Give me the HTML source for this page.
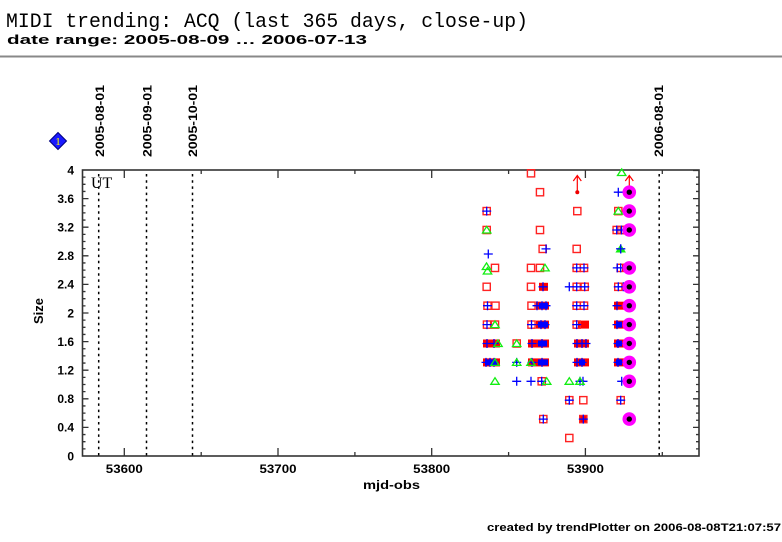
<!DOCTYPE html>
<html><head><meta charset="utf-8"><style>html,body{margin:0;padding:0;background:#fff;}svg{display:block;}</style></head>
<body>
<svg width="782" height="542" viewBox="0 0 782 542" xmlns="http://www.w3.org/2000/svg" xmlns:xlink="http://www.w3.org/1999/xlink" font-family="'Liberation Sans', sans-serif">
<defs>
<rect id="s" x="-3.6" y="-3.6" width="7.2" height="7.2" fill="none" stroke="#f22" stroke-width="1.4"/>
<path id="p" d="M-4.5 0H4.5M0 -4.5V4.5" stroke="#00f" stroke-width="1.3" fill="none"/>
<path id="t" d="M0 -3.6L4.2 3H-4.2Z" fill="none" stroke="#1e1" stroke-width="1.3"/>
<g id="m"><circle r="6.8" fill="#f0f"/><circle r="2.7" fill="#000"/></g>
</defs>
<rect width="782" height="542" fill="#fff"/>
<text x="6" y="27" font-family="'Liberation Mono', monospace" font-size="20" textLength="522" lengthAdjust="spacingAndGlyphs">MIDI trending: ACQ (last 365 days, close-up)</text>
<text x="7" y="44" font-size="13" font-weight="bold" textLength="360" lengthAdjust="spacingAndGlyphs">date range: 2005-08-09 … 2006-07-13</text>
<rect x="0" y="55.5" width="782" height="2" fill="#888"/>

<!-- diamond -->
<polygon points="58,132.5 66.5,141 58,149.5 49.5,141" fill="#1a1aff" stroke="#000080" stroke-width="1"/>
<text x="58" y="145" font-family="'Liberation Serif', serif" font-size="11" fill="#ff0" text-anchor="middle">1</text>

<!-- top rotated date labels -->
<g font-weight="bold" font-size="12">
<text transform="translate(104,157) rotate(-90)" textLength="72" lengthAdjust="spacingAndGlyphs">2005-08-01</text>
<text transform="translate(151.5,157) rotate(-90)" textLength="72" lengthAdjust="spacingAndGlyphs">2005-09-01</text>
<text transform="translate(197,157) rotate(-90)" textLength="72" lengthAdjust="spacingAndGlyphs">2005-10-01</text>
<text transform="translate(663,157) rotate(-90)" textLength="72" lengthAdjust="spacingAndGlyphs">2006-08-01</text>
</g>

<!-- dotted date lines -->
<g stroke="#000" stroke-width="1.5" stroke-dasharray="2.5 3.7">
<line x1="98.7" y1="174" x2="98.7" y2="456"/>
<line x1="146.5" y1="174" x2="146.5" y2="456"/>
<line x1="192.5" y1="174" x2="192.5" y2="456"/>
<line x1="659.2" y1="174" x2="659.2" y2="456"/>
</g>

<text x="91" y="188" font-family="'Liberation Serif', serif" font-size="16">UT</text>

<!-- frame -->
<rect x="82.5" y="170" width="616.5" height="286" fill="none" stroke="#333" stroke-width="1.6"/>
<g stroke="#333" stroke-width="1.3" fill="none">
<path d="M82.5 448.85h3M82.5 441.7h3M82.5 434.55h3M82.5 420.25h3M82.5 413.1h3M82.5 405.95h3M82.5 391.65h3M82.5 384.5h3M82.5 377.35h3M82.5 363.05h3M82.5 355.9h3M82.5 348.75h3M82.5 334.45h3M82.5 327.3h3M82.5 320.15h3M82.5 305.85h3M82.5 298.7h3M82.5 291.55h3M82.5 277.25h3M82.5 270.1h3M82.5 262.95h3M82.5 248.65h3M82.5 241.5h3M82.5 234.35h3M82.5 220.05h3M82.5 212.9h3M82.5 205.75h3M82.5 191.45h3M82.5 184.3h3M82.5 177.15h3"/>
<path d="M82.5 427.4h6M82.5 398.8h6M82.5 370.2h6M82.5 341.6h6M82.5 313h6M82.5 284.4h6M82.5 255.8h6M82.5 227.2h6M82.5 198.6h6"/>
<path d="M699 448.85h-3M699 441.7h-3M699 434.55h-3M699 420.25h-3M699 413.1h-3M699 405.95h-3M699 391.65h-3M699 384.5h-3M699 377.35h-3M699 363.05h-3M699 355.9h-3M699 348.75h-3M699 334.45h-3M699 327.3h-3M699 320.15h-3M699 305.85h-3M699 298.7h-3M699 291.55h-3M699 277.25h-3M699 270.1h-3M699 262.95h-3M699 248.65h-3M699 241.5h-3M699 234.35h-3M699 220.05h-3M699 212.9h-3M699 205.75h-3M699 191.45h-3M699 184.3h-3M699 177.15h-3"/>
<path d="M699 427.4h-6M699 398.8h-6M699 370.2h-6M699 341.6h-6M699 313h-6M699 284.4h-6M699 255.8h-6M699 227.2h-6M699 198.6h-6M699 170.5h-6"/>
<path d="M124.3 456v-8M278 456v-8M431.7 456v-8M585.4 456v-8M201.2 456v-4M354.9 456v-4M508.6 456v-4M662.3 456v-4"/>
<path d="M124.3 170v8M278 170v8M431.7 170v8M585.4 170v8M201.2 170v4M354.9 170v4M508.6 170v4M662.3 170v4"/>
</g>

<!-- y tick labels -->
<g font-weight="bold" font-size="12" text-anchor="end">
<text x="74" y="460.3">0</text>
<text x="74" y="431.7">0.4</text>
<text x="74" y="403.1">0.8</text>
<text x="74" y="374.5">1.2</text>
<text x="74" y="345.9">1.6</text>
<text x="74" y="317.3">2</text>
<text x="74" y="288.7">2.4</text>
<text x="74" y="260.1">2.8</text>
<text x="74" y="231.5">3.2</text>
<text x="74" y="202.9">3.6</text>
<text x="74" y="174.3">4</text>
</g>
<!-- x tick labels -->
<g font-weight="bold" font-size="12" text-anchor="middle">
<text x="124.3" y="473" textLength="37" lengthAdjust="spacingAndGlyphs">53600</text>
<text x="278" y="473" textLength="37" lengthAdjust="spacingAndGlyphs">53700</text>
<text x="431.7" y="473" textLength="37" lengthAdjust="spacingAndGlyphs">53800</text>
<text x="585.4" y="473" textLength="37" lengthAdjust="spacingAndGlyphs">53900</text>
</g>
<text x="391.5" y="489" font-weight="bold" font-size="12" text-anchor="middle" textLength="57" lengthAdjust="spacingAndGlyphs">mjd-obs</text>
<text transform="translate(43,311) rotate(-90)" font-weight="bold" font-size="13" text-anchor="middle">Size</text>

<!-- blocks -->
<g fill="#f00">
<rect x="622" y="263.9" width="7" height="8"/>
<rect x="539" y="282.8" width="9" height="8"/>
<rect x="536" y="301.7" width="13" height="8"/>
<rect x="614" y="301.7" width="10" height="8"/>
<rect x="536" y="320.6" width="13" height="8"/>
<rect x="578" y="320.6" width="11" height="8"/>
<rect x="614" y="320.6" width="10" height="8"/>
<rect x="483" y="339.5" width="17" height="8"/>
<rect x="528" y="339.5" width="21" height="8"/>
<rect x="574" y="339.5" width="15" height="8"/>
<rect x="614" y="339.5" width="10" height="8"/>
<rect x="483" y="358.4" width="17" height="8"/>
<rect x="528" y="358.4" width="21" height="8"/>
<rect x="574" y="358.4" width="15" height="8"/>
<rect x="614" y="358.4" width="10" height="8"/>
<rect x="580" y="415.1" width="7" height="8"/>
</g>
<g fill="#00f">
<rect x="539" y="302.7" width="9" height="6"/>
<rect x="538" y="321.6" width="10" height="6"/>
<rect x="616" y="321.6" width="6" height="6"/>
<rect x="538" y="340.5" width="9" height="6"/>
<rect x="538" y="359.4" width="10" height="6"/>
<rect x="485" y="359.4" width="12" height="6"/>
<rect x="579" y="359.4" width="6" height="6"/>
<rect x="616" y="340.5" width="6" height="6"/>
<rect x="616" y="359.4" width="6" height="6"/>
</g>

<!-- squares -->
<g>
<use xlink:href="#s" x="531" y="173.3"/>
<use xlink:href="#s" x="540" y="192.2"/>
<use xlink:href="#s" x="486.7" y="211.1"/><use xlink:href="#s" x="577.3" y="211.1"/><use xlink:href="#s" x="618.3" y="211.1"/>
<use xlink:href="#s" x="486.7" y="230"/><use xlink:href="#s" x="540" y="230"/><use xlink:href="#s" x="616.7" y="230"/><use xlink:href="#s" x="621.5" y="230"/><use xlink:href="#s" x="625" y="230"/>
<use xlink:href="#s" x="542.7" y="248.9"/><use xlink:href="#s" x="576.7" y="248.9"/>
<use xlink:href="#s" x="495" y="267.9"/><use xlink:href="#s" x="531" y="267.9"/><use xlink:href="#s" x="540" y="267.9"/><use xlink:href="#s" x="576.7" y="267.9"/><use xlink:href="#s" x="584" y="267.9"/><use xlink:href="#s" x="620.7" y="267.9"/>
<use xlink:href="#s" x="486.7" y="286.8"/><use xlink:href="#s" x="531" y="286.8"/><use xlink:href="#s" x="576.7" y="286.8"/><use xlink:href="#s" x="584.7" y="286.8"/><use xlink:href="#s" x="618.3" y="286.8"/>
<use xlink:href="#s" x="487.5" y="305.7"/><use xlink:href="#s" x="495.5" y="305.7"/><use xlink:href="#s" x="531.5" y="305.7"/><use xlink:href="#s" x="576.7" y="305.7"/><use xlink:href="#s" x="584" y="305.7"/>
<use xlink:href="#s" x="487" y="324.6"/><use xlink:href="#s" x="495" y="324.6"/><use xlink:href="#s" x="531.5" y="324.6"/><use xlink:href="#s" x="576.7" y="324.6"/>
<use xlink:href="#s" x="516.7" y="343.5"/>
<use xlink:href="#s" x="541.7" y="381.3"/>
<use xlink:href="#s" x="569.3" y="400.2"/><use xlink:href="#s" x="583.3" y="400.2"/><use xlink:href="#s" x="620.7" y="400.2"/>
<use xlink:href="#s" x="543.3" y="419.1"/><use xlink:href="#s" x="583.3" y="419.1"/>
<use xlink:href="#s" x="569.3" y="438"/>
</g>

<!-- pluses -->
<g>
<use xlink:href="#p" x="618.3" y="192.2"/>
<use xlink:href="#p" x="486.7" y="211.1"/>
<use xlink:href="#p" x="616.7" y="230"/><use xlink:href="#p" x="621.5" y="230"/>
<use xlink:href="#p" x="488.3" y="254"/><use xlink:href="#p" x="546" y="248.9"/><use xlink:href="#p" x="620.7" y="248.9"/>
<use xlink:href="#p" x="576.7" y="267.9"/><use xlink:href="#p" x="584" y="267.9"/><use xlink:href="#p" x="617.3" y="267.9"/><use xlink:href="#p" x="620.7" y="267.9"/>
<use xlink:href="#p" x="543" y="286.8"/><use xlink:href="#p" x="569.3" y="286.8"/><use xlink:href="#p" x="576.7" y="286.8"/><use xlink:href="#p" x="584.7" y="286.8"/><use xlink:href="#p" x="618.3" y="286.8"/><use xlink:href="#p" x="623.3" y="286.8"/>
<use xlink:href="#p" x="487.5" y="305.7"/><use xlink:href="#p" x="537" y="305.7"/><use xlink:href="#p" x="542" y="305.7"/><use xlink:href="#p" x="546" y="305.7"/><use xlink:href="#p" x="576.7" y="305.7"/><use xlink:href="#p" x="584" y="305.7"/><use xlink:href="#p" x="617" y="305.7"/>
<use xlink:href="#p" x="487" y="324.6"/><use xlink:href="#p" x="531.5" y="324.6"/><use xlink:href="#p" x="541" y="324.6"/><use xlink:href="#p" x="545" y="324.6"/><use xlink:href="#p" x="576.7" y="324.6"/><use xlink:href="#p" x="617" y="324.6"/>
<use xlink:href="#p" x="487" y="343.5"/><use xlink:href="#p" x="494" y="343.5"/><use xlink:href="#p" x="532" y="343.5"/><use xlink:href="#p" x="542" y="343.5"/><use xlink:href="#p" x="577" y="343.5"/><use xlink:href="#p" x="582" y="343.5"/><use xlink:href="#p" x="586" y="343.5"/><use xlink:href="#p" x="618" y="343.5"/>
<use xlink:href="#p" x="486" y="362.4"/><use xlink:href="#p" x="490" y="362.4"/><use xlink:href="#p" x="494" y="362.4"/><use xlink:href="#p" x="516.7" y="362.4"/><use xlink:href="#p" x="532" y="362.4"/><use xlink:href="#p" x="542" y="362.4"/><use xlink:href="#p" x="577" y="362.4"/><use xlink:href="#p" x="582" y="362.4"/><use xlink:href="#p" x="618" y="362.4"/>
<use xlink:href="#p" x="516.7" y="381.3"/><use xlink:href="#p" x="531" y="381.3"/><use xlink:href="#p" x="541.7" y="381.3"/><use xlink:href="#p" x="580" y="381.3"/><use xlink:href="#p" x="583" y="381.3"/><use xlink:href="#p" x="621.7" y="381.3"/>
<use xlink:href="#p" x="569.3" y="400.2"/><use xlink:href="#p" x="620.7" y="400.2"/>
<use xlink:href="#p" x="543.3" y="419.1"/><use xlink:href="#p" x="583.3" y="419.1"/>
</g>

<!-- triangles -->
<g>
<use xlink:href="#t" x="621.7" y="172.5"/>
<use xlink:href="#t" x="618.3" y="211.1"/>
<use xlink:href="#t" x="486.7" y="230"/>
<path d="M620.7 245.3L624.9 251.9H616.5Z" fill="#1e1" stroke="#1e1" stroke-width="1.2"/>
<use xlink:href="#p" x="620.7" y="248.9"/>
<use xlink:href="#t" x="486.5" y="266.5"/><use xlink:href="#t" x="487.5" y="271"/><use xlink:href="#t" x="545" y="267.9"/>
<use xlink:href="#t" x="495" y="324.6"/>
<use xlink:href="#t" x="516.7" y="343.5"/><use xlink:href="#t" x="498" y="343.5"/>
<use xlink:href="#t" x="516.7" y="362.4"/><use xlink:href="#t" x="495" y="362.4"/><use xlink:href="#t" x="531" y="362.4"/>
<use xlink:href="#t" x="495" y="381.3"/><use xlink:href="#t" x="546.7" y="381.3"/><use xlink:href="#t" x="569.3" y="381.3"/><use xlink:href="#t" x="580" y="381.3"/>
</g>

<!-- arrows -->
<g stroke="#f00" stroke-width="1.2" fill="none">
<path d="M577.3 192V176M573.3 181L577.3 175.5L581.3 181"/>
<path d="M629.3 188V176M625.3 181L629.3 175.5L633.3 181"/>
</g>
<circle cx="577.3" cy="192.2" r="2" fill="#e00"/>

<!-- magenta -->
<g>
<use xlink:href="#m" x="629.3" y="192.2"/>
<use xlink:href="#m" x="629.3" y="211.1"/>
<use xlink:href="#m" x="629.3" y="230"/>
<use xlink:href="#m" x="629.3" y="267.9"/>
<use xlink:href="#m" x="629.3" y="286.8"/>
<use xlink:href="#m" x="629.3" y="305.7"/>
<use xlink:href="#m" x="629.3" y="324.6"/>
<use xlink:href="#m" x="629.3" y="343.5"/>
<use xlink:href="#m" x="629.3" y="362.4"/>
<use xlink:href="#m" x="629.3" y="381.3"/>
<use xlink:href="#m" x="629.3" y="419.1"/>
</g>

<text x="487" y="531" font-weight="bold" font-size="11" textLength="294" lengthAdjust="spacingAndGlyphs">created by trendPlotter on 2006-08-08T21:07:57</text>
</svg>
</body></html>
